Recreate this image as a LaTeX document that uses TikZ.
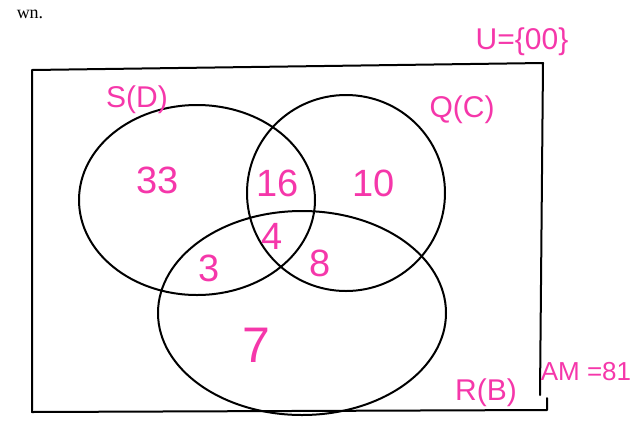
\documentclass[tikz,border=0pt]{standalone}
\usepackage{fontspec}
\setmainfont{Liberation Sans}
\newfontfamily\serifwn{Liberation Serif}
\definecolor{pen}{RGB}{245,55,170}
\begin{document}
\begin{tikzpicture}[x=1pt,y=-1pt,
  ink/.style={draw=black,line width=2pt,line cap=round,line join=round},
  lab/.style={text=pen,inner sep=0pt,font=\fontsize{30}{30}\selectfont},
  num/.style={text=pen,inner sep=0pt,font=\fontsize{38}{38}\selectfont}]
\useasboundingbox (0,0) rectangle (632,424);
% universe box
\coordinate (tl) at (32,70);
\coordinate (tr) at (543,63);
\coordinate (br) at (547,410);
\coordinate (bl) at (32,412);
\coordinate (rend) at (540,395);
\draw[ink] (rend) -- (tr) -- (tl) -- (bl) -- (br) -- ++(0,-12);
% circles
\draw[ink] (197,200) ellipse [x radius=118, y radius=95];
\draw[ink] (346,193) ellipse [x radius=99, y radius=98];
\draw[ink] (302,313) ellipse [x radius=144, y radius=102];
% labels
\node[lab] (sd) at (137,100) {S(D)};
\node[lab] (qc) at (462,110) {Q(C)};
\node[lab] (rb) at (486,393) {R(B)};
\node[lab] (u) at (522,42) {U=\{00\}};
\node[lab,font=\fontsize{26}{26}\selectfont] (am) at (586,372) {AM =81};
\node[num] (n33) at (158,180) {33};
\node[num] (n16) at (278,183) {16};
\node[num] (n10) at (374,183) {10};
\node[num] (n4) at (272,236) {4};
\node[num] (n3) at (209,268) {3};
\node[num] (n8) at (320,263) {8};
\node[num,font=\fontsize{50}{50}\selectfont] (n7) at (256,345) {7};
\node[inner sep=0pt,font=\serifwn\fontsize{18}{18}\selectfont] (wn) at (30,14) {wn.};
\end{tikzpicture}
\end{document}
